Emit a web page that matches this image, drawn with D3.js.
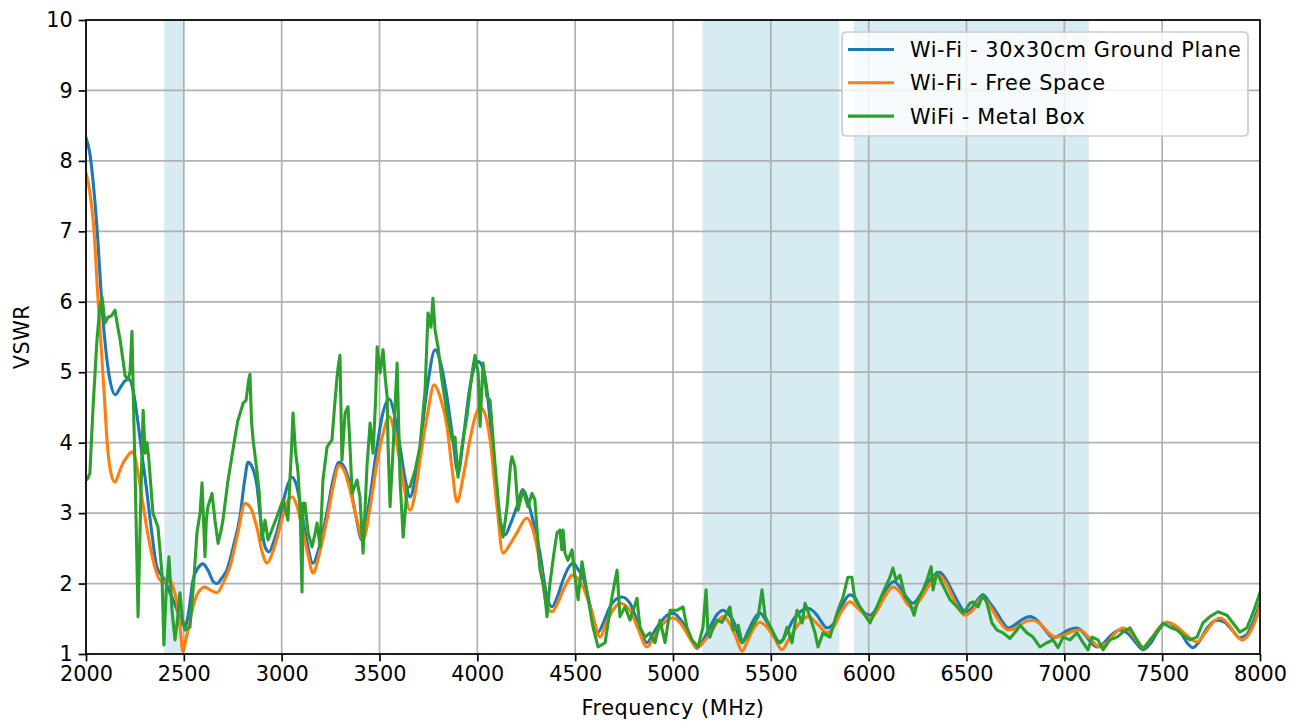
<!DOCTYPE html>
<html>
<head>
<meta charset="utf-8">
<script src="https://cdn.jsdelivr.net/npm/d3@7"></script>
<style>
  body { margin: 0; background: #fff; }
  svg text { font-family: "DejaVu Sans", sans-serif; fill: #000; }
</style>
</head>
<body>
<div id="chart"></div>
<script>
// Wi-Fi bands that get shaded (MHz)
var bands = [[2400, 2500], [5150, 5850], [5925, 7125]];

var xTicks = [2000, 2500, 3000, 3500, 4000, 4500, 5000, 5500, 6000, 6500, 7000, 7500, 8000];
var yTicks = [1, 2, 3, 4, 5, 6, 7, 8, 9, 10];

// 30x30cm ground plane
var groundFreq = [2000,2020,2040,2060,2080,2100,2125,2150,2175,2200,2220,2240,2266,2290,2310,2335,2362,2395,2429,2455,2480,2505,2525,2547,2575,2598,2625,2650,2669,2695,2720,2755,2787,2810,2828,2850,2873,2895,2915,2935,2960,2991,3020,3053,3075,3094,3125,3160,3195,3231,3265,3293,3320,3349,3380,3410,3450,3487,3520,3549,3580,3605,3630,3656,3680,3707,3745,3784,3815,3845,3875,3901,3930,3962,4004,4030,4049,4075,4100,4120,4141,4170,4202,4233,4260,4284,4320,4356,4382,4410,4438,4465,4489,4515,4540,4580,4617,4645,4678,4710,4739,4780,4820,4867,4900,4934,4970,5000,5035,5071,5100,5122,5155,5189,5225,5256,5285,5307,5330,5353,5380,5404,5425,5445,5470,5496,5520,5547,5580,5613,5650,5690,5736,5760,5787,5810,5838,5870,5904,5930,5955,5980,6007,6040,6075,6105,6130,6160,6195,6226,6260,6290,6313,6345,6364,6390,6431,6460,6492,6530,6560,6584,6620,6656,6685,6712,6750,6790,6825,6860,6900,6942,6980,7020,7065,7110,7140,7167,7200,7240,7284,7320,7360,7402,7440,7480,7524,7560,7600,7630,7658,7690,7730,7780,7820,7860,7897,7930,7960,8000];
var groundVswr = [8.33,8.1,7.6,6.9,6.0,5.35,4.85,4.68,4.78,4.88,4.9,4.75,4.28,3.75,3.33,2.75,2.24,2.08,1.87,1.7,1.53,1.38,1.6,2.05,2.23,2.28,2.18,2.03,2.0,2.08,2.19,2.55,2.95,3.45,3.72,3.65,3.4,2.85,2.52,2.45,2.6,2.9,3.3,3.51,3.4,3.15,2.65,2.29,2.55,3.0,3.5,3.72,3.65,3.4,2.95,2.62,3.2,3.94,4.45,4.62,4.35,3.94,3.5,3.23,3.45,3.94,4.8,5.32,5.1,4.65,4.05,3.57,4.1,4.79,5.15,5.05,4.75,4.0,3.23,2.85,2.69,2.85,3.09,3.33,3.15,2.9,2.43,1.81,1.67,1.82,2.05,2.22,2.29,2.2,2.09,1.65,1.31,1.45,1.67,1.78,1.81,1.72,1.45,1.16,1.3,1.44,1.55,1.58,1.5,1.34,1.17,1.08,1.2,1.38,1.56,1.62,1.56,1.48,1.3,1.16,1.3,1.44,1.54,1.58,1.5,1.38,1.25,1.16,1.3,1.48,1.6,1.65,1.55,1.45,1.37,1.4,1.5,1.72,1.84,1.8,1.67,1.58,1.55,1.65,1.85,1.98,2.03,1.95,1.8,1.72,1.82,1.95,2.05,2.14,2.16,2.08,1.87,1.72,1.6,1.66,1.78,1.84,1.72,1.58,1.45,1.37,1.42,1.5,1.53,1.48,1.35,1.23,1.27,1.34,1.37,1.26,1.15,1.1,1.15,1.27,1.34,1.3,1.18,1.06,1.15,1.33,1.45,1.4,1.28,1.15,1.09,1.18,1.37,1.48,1.45,1.33,1.23,1.27,1.42,1.72];

// free space
var freeFreq = [2000,2020,2040,2060,2080,2095,2107,2125,2148,2170,2189,2210,2235,2250,2266,2290,2310,2330,2350,2378,2405,2429,2445,2465,2480,2496,2510,2530,2547,2575,2608,2640,2669,2700,2736,2775,2813,2840,2873,2900,2925,2955,2991,3020,3053,3078,3104,3135,3160,3195,3231,3265,3293,3320,3349,3385,3416,3450,3487,3520,3549,3580,3605,3630,3656,3680,3707,3745,3779,3810,3845,3870,3896,3930,3962,3990,4013,4040,4065,4100,4131,4165,4202,4253,4280,4305,4330,4356,4382,4410,4438,4465,4484,4510,4540,4585,4627,4660,4700,4729,4780,4820,4867,4900,4935,4970,5000,5040,5080,5122,5160,5200,5230,5256,5290,5320,5353,5380,5410,5445,5480,5520,5557,5590,5630,5660,5690,5740,5787,5820,5860,5904,5945,5991,6007,6040,6080,6124,6160,6195,6226,6265,6310,6355,6390,6431,6465,6492,6535,6580,6620,6660,6712,6760,6800,6840,6880,6920,6953,7000,7040,7080,7130,7182,7220,7260,7299,7340,7375,7402,7440,7480,7524,7570,7620,7678,7720,7760,7796,7840,7875,7908,7940,7970,8000];
var freeVswr = [7.83,7.55,7.05,6.1,5.25,4.6,4.04,3.6,3.44,3.58,3.71,3.8,3.87,3.8,3.57,3.15,2.8,2.5,2.25,2.05,2.03,2.05,1.95,1.72,1.4,1.03,1.2,1.45,1.67,1.88,1.95,1.9,1.87,2.0,2.24,2.7,3.14,3.08,2.8,2.45,2.29,2.45,2.8,3.1,3.23,3.1,2.8,2.4,2.15,2.45,2.9,3.4,3.68,3.6,3.33,2.9,2.62,3.05,3.71,4.15,4.37,4.1,3.71,3.3,3.04,3.25,3.75,4.4,4.82,4.65,4.23,3.65,3.16,3.55,4.04,4.38,4.51,4.4,4.04,3.1,2.43,2.55,2.72,2.93,2.8,2.52,2.1,1.67,1.6,1.72,1.9,2.05,2.12,2.08,1.95,1.6,1.24,1.45,1.65,1.72,1.62,1.37,1.1,1.22,1.38,1.48,1.51,1.43,1.25,1.09,1.18,1.33,1.47,1.53,1.43,1.25,1.04,1.18,1.35,1.45,1.38,1.22,1.06,1.2,1.38,1.48,1.53,1.42,1.3,1.38,1.6,1.74,1.65,1.53,1.5,1.6,1.8,1.95,1.88,1.72,1.65,1.78,1.98,2.12,2.03,1.8,1.62,1.55,1.63,1.8,1.68,1.5,1.34,1.38,1.46,1.48,1.42,1.3,1.24,1.27,1.32,1.34,1.22,1.1,1.17,1.3,1.37,1.3,1.17,1.1,1.2,1.36,1.45,1.4,1.28,1.17,1.3,1.45,1.51,1.42,1.28,1.2,1.27,1.43,1.67];

// metal box
var boxFreq = [2000,2010,2020,2036,2056,2070,2082,2097,2112,2130,2148,2163,2175,2189,2200,2215,2225,2235,2243,2251,2266,2280,2292,2302,2312,2320,2342,2368,2388,2398,2410,2424,2440,2455,2468,2480,2493,2506,2531,2550,2567,2583,2593,2608,2615,2623,2644,2659,2675,2690,2700,2725,2751,2775,2803,2818,2832,2838,2846,2854,2873,2885,2899,2915,2930,2955,2976,3007,3020,3032,3050,3058,3070,3084,3095,3104,3109,3119,3135,3155,3170,3181,3196,3211,3232,3257,3270,3283,3290,3298,3308,3324,3339,3350,3360,3385,3400,3416,3436,3452,3467,3480,3488,3503,3518,3530,3539,3544,3554,3570,3590,3605,3621,3641,3656,3682,3707,3733,3748,3763,3773,3784,3799,3819,3845,3871,3886,3901,3927,3947,3973,3988,4004,4014,4029,4049,4065,4090,4116,4131,4152,4170,4177,4192,4208,4233,4259,4279,4294,4320,4336,4346,4356,4371,4390,4407,4422,4432,4438,4448,4463,4484,4499,4515,4535,4561,4591,4617,4653,4688,4714,4729,4755,4780,4816,4831,4857,4882,4908,4934,4959,4985,5020,5051,5071,5097,5128,5153,5169,5179,5189,5205,5225,5250,5270,5291,5307,5333,5353,5378,5404,5435,5455,5471,5506,5537,5563,5583,5608,5634,5660,5675,5700,5726,5741,5767,5802,5838,5869,5894,5914,5930,5955,5991,6007,6042,6073,6109,6124,6140,6160,6186,6211,6232,6252,6278,6298,6319,6329,6349,6375,6416,6452,6483,6518,6534,6559,6584,6605,6630,6656,6687,6722,6758,6773,6809,6840,6875,6911,6942,6968,6994,7029,7065,7096,7121,7142,7172,7198,7233,7269,7300,7336,7371,7402,7438,7474,7504,7540,7576,7606,7642,7678,7708,7744,7785,7831,7862,7897,7933,7964,8000];
var boxVswr = [3.47,3.5,3.57,4.5,5.46,5.9,6.07,5.7,5.78,5.8,5.88,5.63,5.45,5.17,4.95,4.89,5.0,5.58,4.5,3.57,1.53,3.2,4.46,3.85,4.0,3.8,3.0,2.8,2.15,1.13,1.9,2.38,1.6,1.2,1.5,1.87,1.5,1.34,1.38,2.0,2.72,3.0,3.43,2.38,2.9,3.09,3.28,2.9,2.57,2.75,2.9,3.45,3.9,4.3,4.56,4.6,4.9,4.97,4.3,4.04,3.61,3.3,2.62,2.9,2.62,2.8,2.95,3.19,3.05,2.9,3.9,4.42,3.9,3.57,3.0,1.88,3.14,3.14,2.72,2.52,2.7,2.86,2.52,3.47,3.94,4.04,4.5,4.93,5.1,5.24,3.75,4.42,4.51,3.9,3.28,3.47,3.23,2.43,3.66,4.28,3.85,4.6,5.36,4.99,5.32,4.9,4.65,3.94,3.09,3.94,5.13,3.47,2.66,3.37,3.37,3.61,3.94,4.75,5.84,5.64,6.05,5.6,5.36,4.89,4.42,4.04,4.08,3.51,4.04,4.37,4.99,5.24,4.99,4.23,5.13,4.65,4.6,3.71,2.9,2.66,3.09,3.7,3.8,3.66,3.04,3.33,3.09,3.28,3.19,2.2,2.0,1.81,1.53,2.0,2.4,2.72,2.76,2.48,2.76,2.43,2.33,2.48,2.09,1.77,2.31,1.87,1.38,1.1,1.16,1.81,2.19,1.53,1.67,1.48,1.79,1.38,1.24,1.3,1.16,1.48,1.16,1.62,1.62,1.67,1.38,1.2,1.1,1.38,1.91,1.3,1.24,1.38,1.48,1.45,1.55,1.67,1.34,1.41,1.16,1.24,1.38,1.53,1.91,1.53,1.34,1.16,1.2,1.38,1.16,1.62,1.44,1.72,1.53,1.3,1.1,1.3,1.24,1.58,1.81,2.09,2.09,1.77,1.67,1.51,1.44,1.67,1.87,2.09,2.22,2.05,2.12,1.81,1.72,1.55,1.77,1.91,2.05,2.24,1.91,2.16,2.0,1.77,1.67,1.58,1.72,1.74,1.67,1.84,1.72,1.44,1.34,1.3,1.22,1.34,1.41,1.3,1.24,1.1,1.16,1.2,1.09,1.24,1.2,1.3,1.16,1.06,1.24,1.2,1.06,1.2,1.24,1.31,1.37,1.2,1.06,1.2,1.31,1.44,1.38,1.34,1.27,1.2,1.24,1.44,1.53,1.6,1.55,1.44,1.31,1.37,1.58,1.87];

var series = [
  { name: 'Wi-Fi - 30x30cm Ground Plane', freq: groundFreq, vswr: groundVswr, color: '#1f77b4', smooth: true },
  { name: 'Wi-Fi - Free Space', freq: freeFreq, vswr: freeVswr, color: '#ff7f0e', smooth: true },
  { name: 'WiFi - Metal Box', freq: boxFreq, vswr: boxVswr, color: '#2ca02c', smooth: false }
];

var width = 1302, height = 723;
var margin = { top: 20, right: 42, bottom: 69, left: 86 };
var plotW = width - margin.left - margin.right;
var plotH = height - margin.top - margin.bottom;

var svg = d3.select('#chart')
  .append('svg')
  .attr('width', width)
  .attr('height', height);

var g = svg.append('g')
  .attr('transform', 'translate(' + margin.left + ',' + margin.top + ')');

var x = d3.scaleLinear().domain([2000, 8000]).range([0, plotW]);
var y = d3.scaleLinear().domain([1, 10]).range([plotH, 0]);

g.append('clipPath').attr('id', 'plotclip')
  .append('rect').attr('width', plotW).attr('height', plotH);

// shaded bands
g.selectAll('rect.band')
  .data(bands)
  .enter()
  .append('rect')
  .attr('class', 'band')
  .attr('x', function(d){ return x(d[0]) })
  .attr('y', 0)
  .attr('width', function(d){ return x(d[1]) - x(d[0]) })
  .attr('height', plotH)
  .attr('fill', '#add8e6')
  .attr('fill-opacity', 0.5);

// grid
g.selectAll('line.xgrid')
  .data(xTicks)
  .enter()
  .append('line')
  .attr('x1', function(d){ return x(d) })
  .attr('x2', function(d){ return x(d) })
  .attr('y1', 0)
  .attr('y2', plotH)
  .attr('stroke', '#b0b0b0')
  .attr('stroke-width', 1.7);

g.selectAll('line.ygrid')
  .data(yTicks)
  .enter()
  .append('line')
  .attr('x1', 0)
  .attr('x2', plotW)
  .attr('y1', function(d){ return y(d) })
  .attr('y2', function(d){ return y(d) })
  .attr('stroke', '#b0b0b0')
  .attr('stroke-width', 1.7);

// curves
var lines = g.append('g').attr('clip-path', 'url(#plotclip)');
series.forEach(function(s){
  var pts = s.freq.map(function(f, i){ return [f, s.vswr[i]] });
  var line = d3.line()
    .x(function(d){ return x(d[0]) })
    .y(function(d){ return y(d[1]) })
    .curve(s.smooth ? d3.curveMonotoneX : d3.curveLinear);
  lines.append('path')
    .datum(pts)
    .attr('d', line)
    .attr('fill', 'none')
    .attr('stroke', s.color)
    .attr('stroke-width', 3.1)
    .attr('stroke-linejoin', 'round')
    .attr('stroke-linecap', 'square');
});

// axes
var xAxis = g.append('g')
  .attr('transform', 'translate(0,' + plotH + ')')
  .call(d3.axisBottom(x).tickValues(xTicks).tickFormat(d3.format('d')).tickSize(7.3).tickPadding(5));
var yAxis = g.append('g')
  .call(d3.axisLeft(y).tickValues(yTicks).tickFormat(d3.format('d')).tickSize(7.3).tickPadding(6));

[xAxis, yAxis].forEach(function(a){
  a.select('.domain').remove();
  a.selectAll('line').attr('stroke', '#000').attr('stroke-width', 1.7);
  a.selectAll('text').style('font-size', '20.8px').attr('fill', '#000');
});

// frame
g.append('rect')
  .attr('width', plotW)
  .attr('height', plotH)
  .attr('fill', 'none')
  .attr('stroke', '#000')
  .attr('stroke-width', 1.7);

// axis titles
svg.append('text')
  .attr('x', margin.left + plotW / 2)
  .attr('y', 715)
  .attr('text-anchor', 'middle')
  .style('font-size', '20.8px')
  .style('letter-spacing', '0.55px')
  .text('Frequency (MHz)');

svg.append('text')
  .attr('transform', 'translate(29,' + (margin.top + plotH / 2) + ') rotate(-90)')
  .attr('text-anchor', 'middle')
  .style('font-size', '20.8px')
  .style('letter-spacing', '0.55px')
  .text('VSWR');

// legend
var legend = svg.append('g').attr('transform', 'translate(842,32)');
legend.append('rect')
  .attr('width', 406)
  .attr('height', 104)
  .attr('rx', 4)
  .attr('fill', '#fff')
  .attr('fill-opacity', 0.8)
  .attr('stroke', '#cccccc')
  .attr('stroke-width', 1.7);

var items = legend.selectAll('g.item')
  .data(series)
  .enter()
  .append('g')
  .attr('transform', function(d, i){ return 'translate(0,' + (17.5 + i * 33.3) + ')' });

items.append('line')
  .attr('x1', 6).attr('x2', 52)
  .attr('stroke', function(d){ return d.color })
  .attr('stroke-width', 3.1);

items.append('text')
  .attr('x', 68)
  .attr('dy', '0.36em')
  .style('font-size', '20.8px')
  .style('letter-spacing', '0.62px')
  .text(function(d){ return d.name });
</script>
</body>
</html>
